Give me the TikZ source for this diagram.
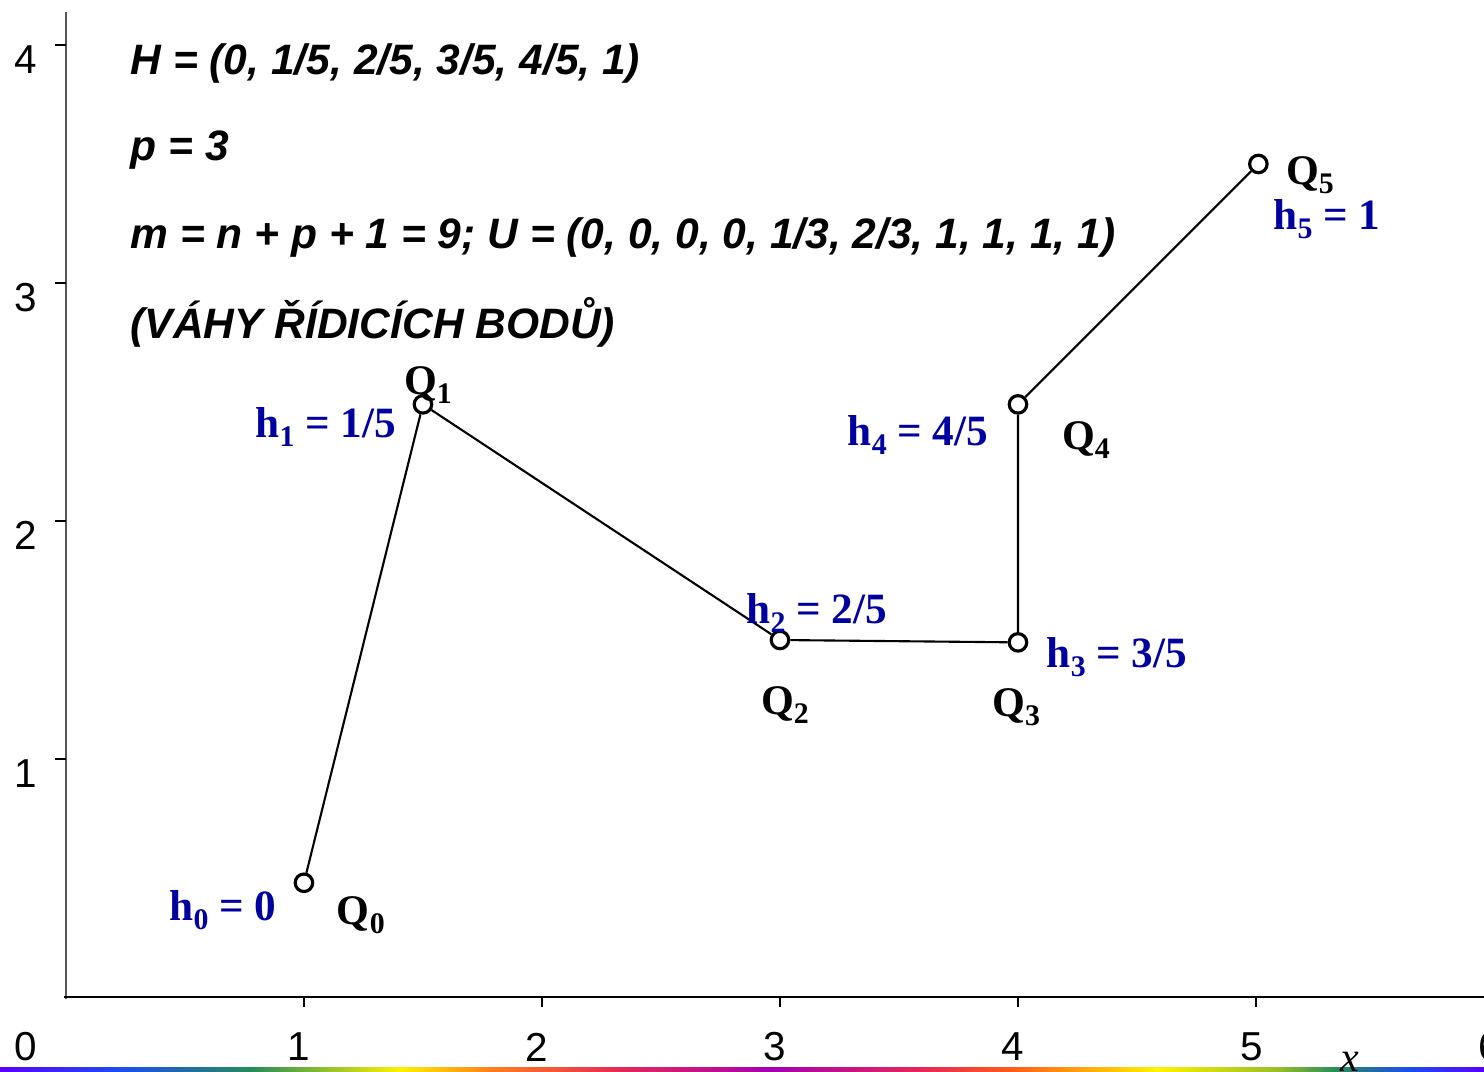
\documentclass[tikz,border=0pt]{standalone}
\usepackage{fontspec}
\setmainfont{Liberation Serif}
\newfontfamily\arialfont{Liberation Sans}
\usepackage{xcolor}
\usepackage{tikz}
\usetikzlibrary{positioning}
\definecolor{weightblue}{HTML}{0000A0}
\definecolor{axisgray}{HTML}{555555}
\pgfdeclarehorizontalshading{rainbowbar}{100bp}{%
  rgb(0bp)=(0.35,0,1); rgb(25bp)=(0.35,0,1); rgb(29bp)=(0.1,0.3,0.95);
  rgb(33.5bp)=(0.15,0.55,0.35); rgb(38.5bp)=(1,0.95,0); rgb(41.5bp)=(1,0.5,0.1);
  rgb(46bp)=(0.9,0.15,0.35); rgb(51bp)=(0.65,0,0.7); rgb(56bp)=(0.9,0.15,0.35);
  rgb(59bp)=(1,0.35,0.1); rgb(64bp)=(1,0.95,0); rgb(68bp)=(0.6,0.75,0.15);
  rgb(70bp)=(0.15,0.55,0.35); rgb(72.5bp)=(0.1,0.3,0.95); rgb(75bp)=(0.35,0,1);
  rgb(100bp)=(0.35,0,1)}
\newcommand{\sbs}[1]{\raisebox{-0.22em}{\fontsize{8.5}{9}\selectfont #1}}
\tikzset{
  ctrlpt/.style={circle, draw, line width=0.9pt, fill=white, inner sep=0pt, minimum size=1.75mm},
  qlabel/.style={font=\fontsize{12}{14}\selectfont\bfseries, inner sep=0pt},
  hlabel/.style={font=\fontsize{12.3}{14}\selectfont\bfseries, text=weightblue, inner sep=0pt},
  infotext/.style={font=\arialfont\fontsize{12.1}{14}\selectfont\bfseries\itshape, anchor=west, inner sep=0pt},
  ticklabel/.style={font=\arialfont\fontsize{11.5}{13}\selectfont, inner sep=0pt}
}

\begin{document}
\begin{tikzpicture}[x=2.38cm, y=2.38cm]
  \useasboundingbox (-0.277,-0.311) rectangle (5.958,4.189);
  \shade[shading=rainbowbar] (-0.277,-0.311) rectangle (5.958,-0.294);
  % axes
  \coordinate (o) at (0,0);
  \coordinate (xend) at (6.1,0);
  \coordinate (yend) at (0,4.14);
  \draw[axisgray, line width=0.6pt] (0,-0.01) -- (yend);
  \draw[line width=0.6pt] (-0.01,0) -- (xend);
  \foreach \i in {1,...,5}
    \draw[line width=0.45pt] (\i,0) -- (\i,-0.042);
  \foreach \i in {1,...,4}
    \draw[line width=0.45pt] (0,\i) -- (-0.046,\i);
  \node[ticklabel] (xl0) at (-0.168,-0.21) {0};
  \foreach \i in {1,...,6}
    \node[ticklabel] (xl\i) at (\i-0.02,-0.21) {\i};
  \foreach \i in {1,...,4}
    \node[ticklabel] (yl\i) at (-0.168,\i-0.06) {\i};
  \node[font=\fontsize{12}{14}\selectfont\itshape, inner sep=0pt] (xname) at (5.395,-0.273) {x};
  % knot data
  \node[infotext] (hvec) at (0.269,3.924) {H = (0, 1/5, 2/5, 3/5, 4/5, 1)};
  \node[infotext] (pval) at (0.269,3.559) {p = 3};
  \node[infotext] (uvec) at (0.269,3.189) {m = n + p + 1 = 9; U = (0, 0, 0, 0, 1/3, 2/3, 1, 1, 1, 1)};
  \node[infotext] (vahy) at (0.269,2.836) {(VÁHY ŘÍDICÍCH BODŮ)};
  % control polygon
  \node[ctrlpt] (q0) at (1,0.48) {};
  \node[ctrlpt] (q1) at (1.5,2.49) {};
  \node[ctrlpt] (q2) at (3,1.5) {};
  \node[ctrlpt] (q3) at (4,1.49) {};
  \node[ctrlpt] (q4) at (4,2.49) {};
  \node[ctrlpt] (q5) at (5.01,3.5) {};
  \draw[line width=0.6pt] (q0) -- (q1) -- (q2) -- (q3) -- (q4) -- (q5);
  % point names
  \node[qlabel] (lq0) at (1.239,0.345) {Q\sbs{0}};
  \node[qlabel] (lq1) at (1.521,2.571) {Q\sbs{1}};
  \node[qlabel] (lq2) at (3.021,1.227) {Q\sbs{2}};
  \node[qlabel] (lq3) at (3.992,1.218) {Q\sbs{3}};
  \node[qlabel] (lq4) at (4.286,2.340) {Q\sbs{4}};
  \node[qlabel] (lq5) at (5.227,3.454) {Q\sbs{5}};
  % weights
  \node[hlabel] (lh0) at (0.660,0.366) {h\sbs{0} = 0};
  \node[hlabel] (lh1) at (1.092,2.395) {h\sbs{1} = 1/5};
  \node[hlabel] (lh2) at (3.155,1.613) {h\sbs{2} = 2/5};
  \node[hlabel] (lh3) at (4.416,1.429) {h\sbs{3} = 3/5};
  \node[hlabel] (lh4) at (3.580,2.361) {h\sbs{4} = 4/5};
  \node[hlabel] (lh5) at (5.298,3.269) {h\sbs{5} = 1};
\end{tikzpicture}
\end{document}
